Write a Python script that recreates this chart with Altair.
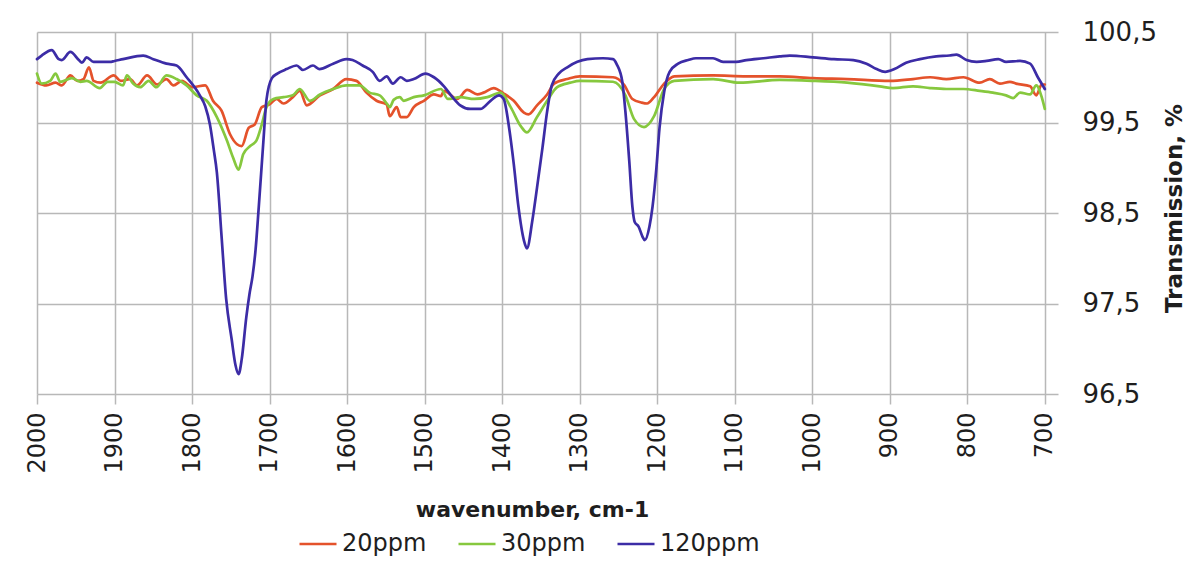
import altair as alt
import pandas as pd

series_names = ["20ppm", "30ppm", "120ppm"]
series_colors = ["#E4522B", "#86C83E", "#3C2CA6"]

# 20ppm
wn_20 = [2000, 1988, 1976, 1968, 1957, 1948, 1940, 1933, 1927, 1918, 1901, 1892, 1880, 1871,
         1858, 1845, 1833, 1824, 1813, 1800, 1783, 1773, 1762, 1751, 1742, 1736, 1727, 1719,
         1710, 1700, 1691, 1682, 1670, 1661, 1652, 1635, 1618, 1601, 1588, 1575, 1562, 1549,
         1545, 1536, 1531, 1523, 1514, 1501, 1488, 1479, 1475, 1458, 1445, 1432, 1424, 1411,
         1398, 1385, 1372, 1366, 1355, 1342, 1333, 1316, 1300, 1257, 1243, 1232, 1220, 1213,
         1204, 1191, 1178, 1128, 1085, 1042, 999, 955, 900, 870, 848, 827, 805, 784, 771, 758,
         745, 737, 719, 711, 704, 700]
t_20 = [99.94, 99.91, 99.94, 99.91, 100.02, 99.96, 99.98, 100.11, 99.96, 99.94, 100.02, 99.96,
        99.98, 99.91, 100.02, 99.92, 99.98, 99.91, 99.96, 99.89, 99.91, 99.74, 99.63, 99.37,
        99.26, 99.24, 99.44, 99.48, 99.67, 99.70, 99.76, 99.71, 99.78, 99.85, 99.69, 99.80,
        99.87, 99.98, 99.96, 99.83, 99.74, 99.70, 99.57, 99.67, 99.56, 99.56, 99.67, 99.74,
        99.81, 99.79, 99.85, 99.76, 99.86, 99.81, 99.83, 99.88, 99.82, 99.74, 99.61, 99.59,
        99.69, 99.81, 99.93, 99.98, 100.01, 100.00, 99.92, 99.76, 99.72, 99.71, 99.78, 99.93,
        100.01, 100.02, 100.01, 100.01, 99.99, 99.98, 99.96, 99.98, 100.00, 99.98, 100.00,
        99.94, 99.98, 99.93, 99.95, 99.93, 99.90, 99.80, 99.92, 99.92]

# 30ppm
wn_30 = [2000, 1994, 1983, 1976, 1970, 1955, 1944, 1936, 1919, 1909, 1900, 1889, 1884, 1876,
         1867, 1856, 1846, 1833, 1820, 1807, 1794, 1781, 1768, 1755, 1747, 1740, 1734, 1725,
         1717, 1710, 1704, 1695, 1682, 1670, 1661, 1648, 1635, 1618, 1601, 1584, 1571, 1558,
         1548, 1545, 1540, 1532, 1527, 1514, 1501, 1479, 1470, 1454, 1436, 1419, 1402, 1389,
         1376, 1368, 1355, 1342, 1329, 1312, 1300, 1257, 1241, 1230, 1217, 1204, 1191, 1178,
         1128, 1094, 1042, 999, 955, 913, 896, 870, 848, 827, 805, 784, 767, 750, 741, 732,
         719, 711, 704, 700]
t_30 = [100.04, 99.93, 99.96, 100.04, 99.95, 99.99, 99.95, 99.96, 99.88, 99.95, 99.95, 99.91,
        100.02, 99.93, 99.89, 99.96, 99.89, 100.02, 99.98, 99.91, 99.80, 99.74, 99.56, 99.30,
        99.11, 98.98, 99.15, 99.24, 99.30, 99.48, 99.67, 99.76, 99.78, 99.80, 99.87, 99.74,
        99.81, 99.87, 99.91, 99.91, 99.83, 99.80, 99.70, 99.67, 99.75, 99.78, 99.74, 99.78,
        99.80, 99.87, 99.76, 99.78, 99.76, 99.78, 99.83, 99.67, 99.46, 99.39, 99.56, 99.74,
        99.89, 99.94, 99.96, 99.95, 99.80, 99.54, 99.45, 99.57, 99.87, 99.96, 99.98, 99.94,
        99.97, 99.96, 99.94, 99.90, 99.88, 99.90, 99.88, 99.87, 99.87, 99.85, 99.83, 99.80,
        99.77, 99.83, 99.81, 99.91, 99.78, 99.65]

# 120ppm
wn_120 = [2000, 1994, 1981, 1972, 1968, 1957, 1946, 1942, 1936, 1927, 1906, 1900, 1889, 1863,
          1850, 1833, 1820, 1807, 1790, 1783, 1777, 1772, 1768, 1762, 1756, 1749, 1744, 1740,
          1736, 1730, 1726, 1722, 1718, 1714, 1708, 1704, 1697, 1690, 1678, 1665, 1657, 1644,
          1636, 1618, 1601, 1593, 1580, 1567, 1558, 1549, 1541, 1531, 1523, 1514, 1499, 1488,
          1475, 1464, 1454, 1441, 1428, 1415, 1404, 1398, 1391, 1385, 1379, 1372, 1368, 1361,
          1355, 1348, 1342, 1336, 1327, 1316, 1303, 1290, 1270, 1257, 1252, 1245, 1241, 1236,
          1232, 1229, 1224, 1219, 1216, 1210, 1206, 1201, 1197, 1191, 1184, 1173, 1160, 1150,
          1128, 1115, 1098, 1085, 1063, 1042, 1029, 999, 972, 947, 930, 917, 906, 894, 879,
          861, 840, 823, 814, 801, 788, 775, 760, 750, 732, 719, 709, 700]
t_120 = [100.20, 100.24, 100.30, 100.20, 100.19, 100.28, 100.19, 100.16, 100.22, 100.17,
         100.17, 100.18, 100.20, 100.24, 100.20, 100.15, 100.13, 100.00, 99.80, 99.68, 99.48,
         99.20, 98.95, 98.25, 97.55, 97.11, 96.82, 96.72, 96.88, 97.35, 97.60, 97.80, 98.10,
         98.56, 99.29, 99.75, 99.99, 100.04, 100.09, 100.13, 100.08, 100.13, 100.09, 100.15,
         100.20, 100.19, 100.13, 100.06, 99.96, 100.01, 99.93, 100.00, 99.96, 99.98, 100.04,
         100.00, 99.90, 99.78, 99.69, 99.65, 99.65, 99.74, 99.80, 99.76, 99.44, 99.04, 98.57,
         98.20, 98.11, 98.42, 98.78, 99.22, 99.62, 99.91, 100.04, 100.11, 100.17, 100.20,
         100.21, 100.20, 100.14, 99.95, 99.62, 99.07, 98.57, 98.40, 98.35, 98.24, 98.20, 98.35,
         98.57, 99.00, 99.44, 99.84, 100.06, 100.15, 100.19, 100.21, 100.21, 100.17, 100.17,
         100.19, 100.21, 100.23, 100.24, 100.22, 100.20, 100.19, 100.15, 100.09, 100.06, 100.09,
         100.16, 100.20, 100.23, 100.24, 100.25, 100.19, 100.17, 100.18, 100.20, 100.17, 100.18,
         100.15, 100.00, 99.87]

x_ticks = [2000, 1900, 1800, 1700, 1600, 1500, 1400, 1300, 1200, 1100, 1000, 900, 800, 700]
y_ticks = [96.5, 97.5, 98.5, 99.5, 100.5]

rows = []
for name, wns, ts in [("20ppm", wn_20, t_20), ("30ppm", wn_30, t_30), ("120ppm", wn_120, t_120)]:
    for i, (w, t) in enumerate(zip(wns, ts)):
        rows.append({"series": name, "wavenumber": w, "transmission": t, "idx": i})
df = pd.DataFrame(rows)

FONT = "DejaVu Sans"
GRID = "#b8b8b8"
TEXT = "#1e1e1e"

chart = alt.Chart(df).mark_line(interpolate="monotone", strokeJoin="round", strokeCap="round").encode(
    x=alt.X("wavenumber:Q",
            scale=alt.Scale(domain=[683, 2000], reverse=True, nice=False, zero=False),
            axis=alt.Axis(values=x_ticks, format="d", title="wavenumber, cm-1", labelAngle=270,
                          labelFontSize=24, labelPadding=8, labelColor=TEXT, labelFont=FONT,
                          domain=False, ticks=True, tickSize=10, tickColor=GRID, tickWidth=1.5,
                          grid=True, gridColor=GRID, gridWidth=1.5,
                          titleFont=FONT, titleFontSize=22, titleFontWeight="bold", titleColor=TEXT,
                          titleBaseline="alphabetic", titleY=122, titleX=495, titleAlign="center",
                          labelFlush=False, labelOverlap=False)),
    y=alt.Y("transmission:Q",
            scale=alt.Scale(domain=[96.5, 100.5], nice=False, zero=False),
            axis=alt.Axis(orient="right", values=y_ticks,
                          labelExpr="replace(format(datum.value, '.1f'), '.', ',')",
                          title="Transmission, %", labelFontSize=26, labelPadding=24,
                          labelColor=TEXT, labelFont=FONT, domain=False, ticks=False,
                          grid=True, gridColor=GRID, gridWidth=1.5,
                          titleFont=FONT, titleFontSize=23, titleFontWeight="bold", titleColor=TEXT,
                          titleAngle=270, titleBaseline="alphabetic", titleX=123, titleY=176,
                          titleAlign="center", labelFlush=False, labelOverlap=False)),
    color=alt.Color("series:N",
                    scale=alt.Scale(domain=series_names, range=series_colors),
                    sort=series_names,
                    legend=alt.Legend(title=None, orient="none", direction="horizontal",
                                      legendX=261, legendY=492, symbolType="stroke",
                                      symbolSize=1369, symbolStrokeWidth=3, labelFontSize=24,
                                      labelFont=FONT, labelColor=TEXT, labelOffset=4,
                                      columnPadding=26, padding=0)),
    strokeWidth=alt.StrokeWidth("series:N",
                                scale=alt.Scale(domain=series_names, range=[2.7, 2.7, 4.6]),
                                legend=None),
    order=alt.Order("idx:Q"),
).properties(
    width=1021,
    height=362,
    autosize=alt.AutoSizeParams(type="none"),
    padding={"left": 29, "top": 24, "right": 131, "bottom": 167},
    background="white",
).configure_view(stroke=None)

chart.save("out.html", embed_options={"renderer": "svg", "actions": False})
